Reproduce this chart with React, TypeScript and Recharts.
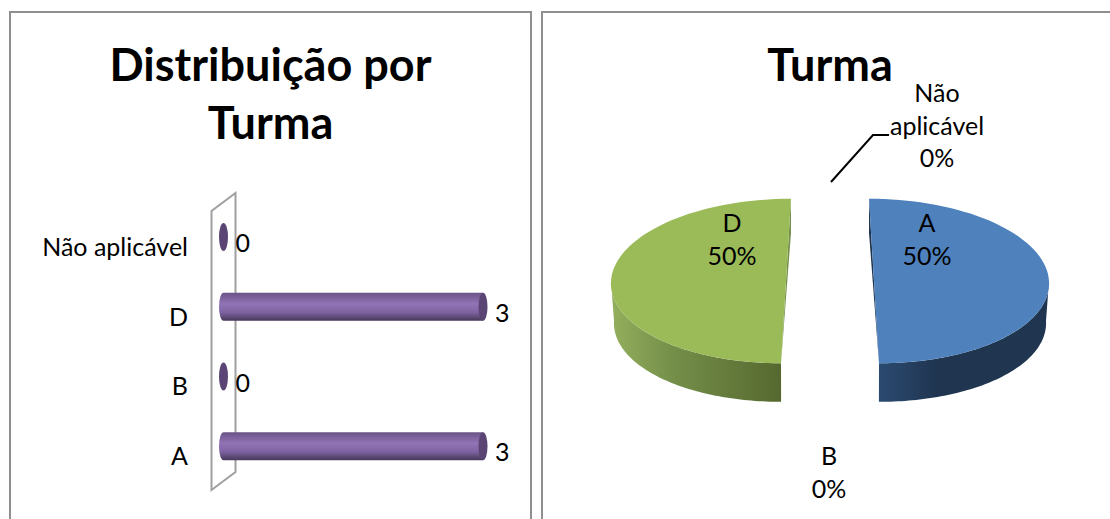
import React from "react";
import {
  BarChart,
  Bar,
  XAxis,
  YAxis,
  LabelList,
  ReferenceLine,
  PieChart,
  Pie,
} from "recharts";

const categories = ["A", "B", "D", "Não aplicável"];
const turmaCounts = [3, 0, 3, 0];
const pieColors = ["#4f81bd", "#c0504d", "#9bbb59", "#8064a2"];

const tableData = categories.map((name, i) => ({
  name,
  value: turmaCounts[i],
  fill: pieColors[i],
}));

const FONT = "Lato, 'Open Sans', sans-serif";
const BAR_RX = 4.5;
const BAR_MARGIN = { top: 202, right: 48, bottom: 38, left: 0 };

const PIE_CX = 289;
const PIE_CY = 281;
const PIE_R = 175;
const SQUASH = 0.47;
const EXPLODE = 44;
const PERSPECTIVE = 0.00138;
const DEPTH = 40;

// label centres relative to the pie centre
const pieLabelOffset: Record<string, [number, number]> = {
  A: [97, -49],
  B: [-1, 184],
  D: [-98, -49],
  "Não aplicável": [107, -179],
};

const sideColors: Record<string, [string, string, string]> = {
  A: ["#2b4a70", "#1f3550", "#1f3550"],
  D: ["#94af5c", "#75904a", "#56682f"],
};

const CylinderBar = (props: any) => {
  const { x, y, width, height } = props;
  const cy = y + height / 2;
  if (!width) {
    return <ellipse cx={x} cy={cy} rx={BAR_RX} ry={height / 2} fill="#5a4574" />;
  }
  return (
    <g>
      <path
        d={`M${x} ${y} H${x + width} V${y + height} H${x} A${BAR_RX} ${height / 2} 0 0 1 ${x} ${y} Z`}
        fill="url(#barShade)"
      />
      <ellipse cx={x + width} cy={cy} rx={BAR_RX} ry={height / 2} fill="#5a4574" />
    </g>
  );
};

const BarValue = (props: any) => {
  const { x, y, width, height, value } = props;
  return (
    <text
      x={x + width + 12}
      y={y + height / 2 + 15}
      fontFamily={FONT}
      fontSize={25}
      fill="#000"
    >
      {value}
    </text>
  );
};

const CategoryTick = (props: any) => {
  const { x, y, payload } = props;
  return (
    <text
      x={x}
      y={y + 19}
      textAnchor="end"
      fontFamily={FONT}
      fontSize={25}
      fill="#000"
    >
      {payload.value}
    </text>
  );
};

const BackWall = (props: any) => {
  const { x1, y1, y2 } = props;
  const left = x1 - 12;
  const right = x1 + 12;
  const pts = `${left},${y1 + 9} ${right},${y1 - 9} ${right},${y2 - 9} ${left},${y2 + 9}`;
  return <polygon points={pts} fill="#fff" stroke="#a0a0a0" strokeWidth={2} />;
};

const PieSlice3D = (props: any) => {
  const { cx, cy, outerRadius, startAngle, endAngle, fill, name } = props;
  if (startAngle === endAngle) return null;
  const mid = (((startAngle + endAngle) / 2) * Math.PI) / 180;
  const shiftX = EXPLODE * Math.cos(mid);

  const rim = (deg: number, radius: number, drop: number) => {
    const a = (deg * Math.PI) / 180;
    const py = cy - radius * SQUASH * Math.sin(a);
    // the near edge of an exploded slice sits further out
    const offset = shiftX * (1 + PERSPECTIVE * (py - cy));
    return [cx + offset + radius * Math.cos(a), py + drop];
  };
  const arc = (from: number, to: number, radius: number, drop: number) => {
    const out: number[][] = [];
    for (let i = 0; i <= 72; i++) {
      out.push(rim(from + ((to - from) * i) / 72, radius, drop));
    }
    return out;
  };
  const toPath = (pts: number[][]) =>
    pts.map((p, i) => `${i ? "L" : "M"}${p[0]} ${p[1]}`).join(" ") + " Z";

  const lo = Math.min(startAngle, endAngle);
  const hi = Math.max(startAngle, endAngle);
  const frontFrom = Math.max(lo, -180);
  const frontTo = Math.min(hi, 0);

  const top = arc(startAngle, endAngle, outerRadius, 0);
  const wall = [
    ...arc(frontFrom, frontTo, outerRadius, 0),
    ...arc(frontTo, frontFrom, outerRadius - 3, DEPTH),
  ];
  const topEdge = rim(90, outerRadius, 0);
  const cutFace = [
    topEdge,
    [topEdge[0], topEdge[1] + DEPTH - 6],
    rim(-90, outerRadius, 0),
  ];
  const colors = sideColors[name] ?? ["#666", "#666", "#666"];
  const gradId = `side-${name}`;

  return (
    <g>
      <defs>
        <linearGradient id={gradId} x1="0" y1="0" x2="1" y2="0">
          <stop offset="0%" stopColor={colors[0]} />
          <stop offset="35%" stopColor={colors[1]} />
          <stop offset="100%" stopColor={colors[2]} />
        </linearGradient>
      </defs>
      <path d={toPath(wall)} fill={`url(#${gradId})`} />
      <path d={toPath(cutFace)} fill={colors[1]} />
      <path d={toPath(top)} fill={fill} />
    </g>
  );
};

const PieSliceLabel = (props: any) => {
  const { cx, cy, name, percent } = props;
  const [dx, dy] = pieLabelOffset[name] ?? [0, 0];
  const lines = [...name.split(" "), `${Math.round(percent * 100)}%`];
  const isCallout = lines.length > 2;
  return (
    <g>
      {isCallout && (
        <polyline
          points={`${cx + 1},${cy - 99} ${cx + 43},${cy - 146} ${cx + 59},${cy - 146}`}
          fill="none"
          stroke="#000"
          strokeWidth={2}
        />
      )}
      <text
        x={cx + dx}
        y={cy + dy}
        textAnchor="middle"
        fontFamily={FONT}
        fontSize={25}
        fill="#000"
      >
        {lines.map((line: string, i: number) => (
          <tspan key={line} x={cx + dx} dy={i ? 32.5 : 0}>
            {line}
          </tspan>
        ))}
      </text>
    </g>
  );
};

const panelStyle = (left: number, width: number): React.CSSProperties => ({
  position: "absolute",
  left,
  top: 11,
  width,
  height: 540,
  boxSizing: "border-box",
  borderLeft: "2px solid #8f8f8f",
  borderTop: "2px solid #8f8f8f",
  borderRight: "2px solid #8f8f8f",
});

const titleStyle = (left: number, width: number, top: number): React.CSSProperties => ({
  position: "absolute",
  left,
  width,
  top,
  textAlign: "center",
  fontFamily: FONT,
  fontWeight: 700,
  fontSize: 45,
  lineHeight: "58px",
  color: "#000",
});

const layerStyle = (left: number): React.CSSProperties => ({
  position: "absolute",
  left,
  top: 0,
});

const App = () => {
  return (
    <div
      style={{
        position: "absolute",
        left: 0,
        top: 0,
        width: 1110,
        height: 519,
        overflow: "hidden",
        background: "#fff",
      }}
    >
      <div style={panelStyle(9, 523)} />
      <div style={panelStyle(541, 600)} />
      <div style={titleStyle(9, 523, 35)}>
        Distribuição por
        <br />
        Turma
      </div>
      <div style={titleStyle(541, 578, 35)}>Turma</div>

      {/* the wall sits in its own chart so that the bars cross in front of it */}
      <div style={layerStyle(0)}>
        <BarChart
          width={531}
          height={519}
          layout="vertical"
          data={tableData}
          margin={BAR_MARGIN}
        >
          <XAxis type="number" domain={[0, 3]} hide />
          <YAxis
            type="category"
            dataKey="name"
            width={223.5}
            reversed
            axisLine={false}
            tickLine={false}
            tick={false}
          />
          <Bar dataKey="value" isAnimationActive={false} shape={() => null} />
          <ReferenceLine x={0} shape={<BackWall />} />
        </BarChart>
      </div>

      <div style={layerStyle(0)}>
        <BarChart
          width={531}
          height={519}
          layout="vertical"
          data={tableData}
          margin={BAR_MARGIN}
        >
          <defs>
            <linearGradient id="barShade" x1="0" y1="0" x2="0" y2="1">
              <stop offset="0%" stopColor="#6a5387" />
              <stop offset="40%" stopColor="#9274b6" />
              <stop offset="70%" stopColor="#7d62a0" />
              <stop offset="100%" stopColor="#473857" />
            </linearGradient>
          </defs>
          <XAxis type="number" domain={[0, 3]} hide />
          <YAxis
            type="category"
            dataKey="name"
            width={223.5}
            reversed
            axisLine={false}
            tickLine={false}
            tickSize={0}
            tickMargin={35.5}
            interval={0}
            tick={<CategoryTick />}
          />
          <Bar
            dataKey="value"
            barSize={28}
            isAnimationActive={false}
            shape={<CylinderBar />}
          >
            <LabelList dataKey="value" content={<BarValue />} />
          </Bar>
        </BarChart>
      </div>

      <div style={layerStyle(541)}>
        <PieChart
          width={569}
          height={519}
          margin={{ top: 0, right: 0, bottom: 0, left: 0 }}
        >
          <Pie
            data={tableData}
            dataKey="value"
            nameKey="name"
            cx={PIE_CX}
            cy={PIE_CY}
            outerRadius={PIE_R}
            startAngle={90}
            endAngle={-270}
            stroke="none"
            isAnimationActive={false}
            shape={<PieSlice3D />}
            label={<PieSliceLabel />}
            labelLine={false}
          />
        </PieChart>
      </div>
    </div>
  );
};

export default App;
